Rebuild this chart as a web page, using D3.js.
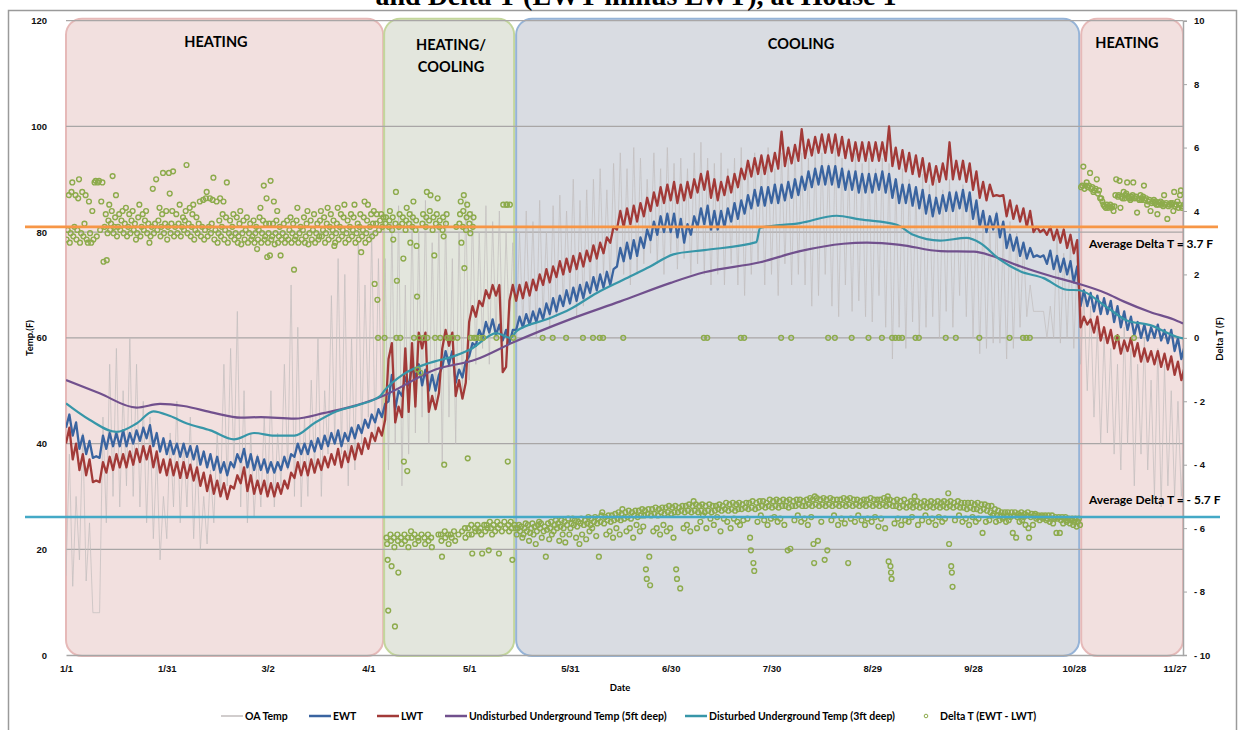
<!DOCTYPE html>
<html>
<head>
<meta charset="utf-8">
<script src="https://cdn.jsdelivr.net/npm/d3@7/dist/d3.min.js"></script>
<style>
  body { margin: 0; background: #fff; }
  svg { display: block; font-family: Lato, "Open Sans", sans-serif; }
  .tick text { font-weight: bold; fill: #111; }
</style>
</head>
<body>
<svg id="chart" width="1241" height="730"></svg>
<script>
// ---------- data (day = days after Jan 1) ----------
const regionNames = [["HEATING"], ["HEATING/", "COOLING"], ["COOLING"], ["HEATING"]];
const regionStart = [0, 94.7, 134.0, 302.2];
const regionEnd = [94.4, 133.4, 301.6, 332.5];

const tickDays = [0, 30, 60, 90, 120, 150, 180, 210, 240, 270, 300, 330];
const tempTicks = [0, 20, 40, 60, 80, 100, 120];
const deltaTicks = [-10, -8, -6, -4, -2, 0, 2, 4, 6, 8, 10];

// noisy series: [low, high] read every 2 days
const bandStep = 2;
const oaTemp = [
  [15,38],[13,30],[18,42],[14,25],[8,8],[8,45],[25,55],[30,58],[28,50],[32,60],
  [30,55],[28,48],[25,45],[22,38],[18,30],[22,42],[28,48],[25,40],[28,45],[22,38],
  [20,30],[21,35],[25,42],[30,55],[32,58],[35,65],[28,50],[25,42],[26,38],[28,45],
  [30,50],[28,42],[32,55],[35,70],[30,62],[28,45],[30,52],[35,60],[30,50],[38,68],
  [40,75],[38,72],[32,60],[35,78],[40,70],[45,80],[40,75],[45,75],[35,82],[40,85],
  [32,70],[38,84],[42,80],[45,86],[40,78],[48,82],[36,84],[45,75],[40,80],[50,86],
  [52,84],[55,80],[58,85],[55,82],[60,84],[58,80],[60,78],[60,80],[62,84],[63,82],
  [60,86],[64,80],[62,85],[64,87],[66,84],[68,90],[64,86],[66,88],[68,90],[70,92],
  [72,88],[70,93],[74,95],[72,92],[70,96],[72,94],[74,90],[76,95],[74,92],[72,96],
  [76,93],[73,94],[75,92],[72,95],[74,97],[72,94],[70,93],[72,95],[70,92],[74,94],
  [70,96],[68,93],[72,95],[74,94],[70,96],[72,92],[68,95],[74,94],[70,96],[72,95],
  [70,94],[66,96],[68,95],[72,93],[66,96],[64,94],[70,92],[65,95],[67,93],[64,94],
  [63,92],[68,94],[62,93],[56,90],[62,92],[58,90],[63,88],[60,91],[62,89],[64,90],
  [60,88],[65,90],[62,88],[68,89],[64,87],[60,86],[57,84],[58,82],[59,84],[59,80],
  [56,82],[58,80],[62,78],[64,70],[65,65],[65,65],[60,66],[60,80],[59,76],[60,78],
  [58,75],[55,68],[50,66],[45,62],[40,60],[42,58],[38,55],[35,62],[40,58],[32,55],
  [38,60],[35,52],[30,58],[28,55],[32,50],[30,48],[30,45]
];
const ewt = [
  [43,45.5],[41.5,44],[39,41.5],[38,40.5],[37.3,37.6],[37.3,41.5],[39,42],[39.5,42],[39.5,42.5],[39.5,42],
  [40,42.5],[40.5,43],[41,43.5],[39.5,42],[38.5,41],[38,40.5],[38,40],[37.5,40],[37.5,39.5],[37,39.5],
  [36,38.5],[35.5,38],[35,37.5],[34.5,36.5],[34,36.5],[35.5,38],[36.5,39],[35.5,38],[35,37.5],[35,37],
  [34.5,36.5],[34.5,36.5],[35,37.5],[35.5,38],[37.5,40],[38,40],[38,40.5],[38.5,41],[39,41.5],[39.5,42],
  [40,42.5],[39.5,42],[40.5,43],[41,43.5],[42,44.5],[43,45.5],[44,46.5],[45,47.5],[48,53],[46.5,50],
  [49,52.5],[51,54.5],[52.5,55],[51,54],[50,53],[50,53],[54.5,57.5],[55,57.5],[51.5,54],[52.5,55.5],
  [56.5,59],[58.5,61.5],[60,63],[61,63.5],[60.5,62.5],[59.5,61.5],[59,61.5],[61.5,64],[62,64.5],[62.5,65],
  [63,65.5],[63.5,66.5],[64.5,67.5],[65,68],[66,69],[66.5,69.5],[67,70],[67.5,70.5],[68.5,71.5],[69,72],
  [69.5,72.5],[70,73],[73.5,77],[74.5,78],[75,78.5],[75.5,79],[77,80.5],[78.5,82],[79.5,83],[80,83.5],
  [80,83.5],[79,82.5],[78,81.5],[79.5,83],[81,84.5],[81.5,85],[80.5,84],[80.5,84],[81,84.5],[82,85.5],
  [82.5,86],[83.5,87],[84.5,88],[85,88.5],[85,88.5],[85.5,89],[85.5,89],[86,89.5],[86.5,90],[87,90.5],
  [88,91.5],[88.5,92],[89,92.5],[89,92.5],[89,92.5],[88.5,92],[88,91.5],[88,91.5],[87.5,91],[87.5,91],
  [87.5,91],[88,91.5],[87.5,91],[86.5,90],[85.5,89],[85.5,89],[85,88.5],[84.5,88],[83.5,87],[83,86.5],
  [83.5,87],[84,87.5],[84,87.5],[84.5,88],[84,87.5],[82.5,86],[81,84],[80,83],[80.5,83.5],[79,82],
  [77,79.5],[76.5,79],[75.5,78],[75,77],[75.3,75.6],[75.3,75.6],[74,76.5],[73,75.5],[72.5,75],[72,74.5],
  [70.5,73.5],[66,69],[66,68.5],[65,68],[64.5,67.5],[64.5,67],[63,66],[62,65],[61.5,64],[60.5,63],
  [60,62.5],[59.5,62],[60,62.5],[59.5,61.5],[59,61.5],[57.5,60],[56,58.5]
];
const lwt = [
  [40,43],[37,40],[35,38],[34,37],[32.7,33],[32.7,36.5],[34.5,37.5],[35,38],[35.5,38],[35.5,38.5],
  [36,39],[36.5,39.5],[37,39.5],[35.5,38.5],[34.5,37],[34,37],[34,36.5],[33.5,36.5],[33.5,36],[33,35.5],
  [32,34.5],[31,34],[30.5,33],[30,32.5],[29.5,32],[31.5,34],[32.5,35.5],[31,34],[30.5,33],[30.5,33],
  [30,32.5],[30,32.5],[30.5,33],[31.5,34.5],[33.5,36.5],[34,36.5],[34,37],[34.5,37],[35,37.5],[35.5,38],
  [36,39],[35.5,38.5],[36.5,39.5],[37,40],[38,41],[39,42],[40.5,43],[41.5,44.5],[56,59],[44,47],
  [45,58],[46,59],[47,61],[58,61],[46,49],[46.5,49.5],[58,61.5],[58.5,61],[49,52],[48.5,51.5],
  [63,66],[64,67],[66,69],[67.5,70],[68,70],[53.5,54.5],[67,70],[67,70],[67.5,70.5],[68,71],
  [69,72],[70,73],[70.5,73.5],[71.5,74.5],[72,75],[72.5,75.5],[73,76],[73.5,76.5],[74.5,77.5],[75,78],
  [76,79],[78,81],[80.5,84],[81,84.5],[81.5,85],[82,85.5],[83,86.5],[84,87.5],[85,88.5],[85.5,89],
  [86,89.5],[85.5,89],[86,89.5],[86.5,90],[87.5,91],[88,91.5],[86.5,90],[86,89.5],[87,90.5],[87.5,91],
  [88.5,92],[90,93.5],[90.5,94],[91,94.5],[91,94.5],[91.5,95],[92,99],[92.5,96],[93,96.5],[93.5,99.5],
  [94,97.5],[94.5,98],[95,98.5],[95,98.5],[95,98.5],[94.5,98],[94,97.5],[93.5,97],[93.5,97],[93.5,97],
  [93.5,97],[93.5,97],[93.5,100],[92.5,96],[92,95.5],[91.5,95],[91,94.5],[90.5,94],[89.5,93],[89,92.5],
  [89.5,93],[90,97],[90,93.5],[90,93.5],[89.5,93],[88,91.5],[86.5,89.5],[86,89],[86.8,87],[86.8,87],
  [83,86],[82.5,85],[82,84.5],[81,84],[80,81],[80,80.5],[79.5,81],[78.5,80.5],[78,80.5],[77,79.5],
  [76,78.5],[62,64],[62.5,63.5],[61,64],[59.5,62],[59,61.5],[58,60.5],[57,59.5],[57.5,60],[56.5,59],
  [55.5,58],[55.5,57.5],[55,57.5],[54.5,57],[54,56.5],[53,55.5],[52,54.5]
];

// smooth series: [day, temp]
const undisturbed = [
  [0,52.0],[10,49.5],[21,46.8],[28,47.5],[35,47.1],[44,45.8],[52,44.9],[58,45.0],[68,44.7],[77,45.8],
  [85,47.0],[91.5,48.3],[95,49.2],[110,54.0],[122,55.9],[133,59.1],[150,63.5],[165,66.9],[180,70.4],
  [190,72.4],[206.6,74.3],[218.5,76.4],[231.4,77.8],[238.4,78.0],[248.3,77.6],[260.3,76.4],[270.2,76.3],
  [276.2,75.4],[284.2,73.5],[293.1,71.7],[301,70.3],[309.8,68.4],[314.8,66.9],[322.7,64.9],[329.6,63.5],[332.5,62.7]
];
const disturbed = [
  [0,47.6],[7,44.5],[15,42.2],[21,43.8],[26,46.1],[31,45.2],[36,43.8],[43,42.5],[50,40.8],[56,42.0],
  [62,41.5],[68,41.5],[74,43.9],[80.6,46.1],[87.5,47.4],[93.5,49.0],[95,50.2],[100.4,53.1],[108.4,55.3],
  [115.3,56.5],[120.3,57.8],[128.2,60.9],[132.2,60.0],[134.2,61.3],[143.1,63.5],[150,65.4],[158,68.5],
  [165.9,71.0],[173.9,73.5],[180.8,75.8],[190,76.6],[205.5,78.1],[206.6,80.8],[218.5,81.7],[229.4,83.1],
  [236.3,82.4],[247.3,81.4],[252.2,79.5],[260.2,78.4],[268.1,78.9],[272,78.0],[278,74.8],[284,72.6],
  [291,71.3],[297.9,69.1],[301.6,69.0],[309.8,65.8],[315.8,63.3],[322.7,62.4],[330.6,60.2],[332.5,59.9]
];

// Delta T readings, grouped by day
const deltaHeat1Start = 0;
const deltaHeat1 = [
  [3.1,3.4,4.5],[3.0,3.3,4.6,4.9],[3.2,3.5,4.5],[3.1,3.4,4.4,5.0],[3.0,3.3,4.6],
  [3.2,3.6,4.5],[3.1,3.0,4.3],[3.3,3.0,4.0],[3.1,4.9,4.95],[3.2,4.9,4.95],
  [3.4,4.3,4.9],[2.4,3.5,3.9],[2.45,3.3,3.7,4.2],[3.4,3.6,4.0,5.1],[3.3,3.5,3.8,4.5],
  [3.2,3.5,3.9],[3.4,3.7,4.0],[3.3,3.6,4.1],[3.2,3.5,3.9],[3.3,3.7,4.0],
  [3.4,3.6,3.1],[3.3,3.8,4.2],[3.2,3.5,3.9],[3.4,3.7,4.0],[3.3,3.6,3.0],
  [3.2,3.5,4.7],[3.3,3.6,5.0],[3.4,3.7,4.1],[3.2,3.5,3.9,5.2],[3.3,3.6,4.0],
  [3.1,3.5,5.2,4.55],[3.3,3.6,4.0,5.25],[3.2,3.5,3.9],[3.3,3.6,4.2],[3.2,3.5,3.8],
  [3.4,3.7,4.0,5.45],[3.3,3.6,4.1],[3.2,3.5,3.9,4.2],[3.1,3.4,3.8],[3.3,3.6,4.3],
  [3.2,3.5,4.35],[3.1,3.4,4.4,4.6],[3.2,3.5,4.4],[3.3,3.6,4.35,5.05],[3.1,3.4,4.3],
  [3.0,3.3,3.7,4.4],[3.2,3.5,3.9,4.3],[3.1,3.4,3.8,4.9],[3.0,3.3,3.7],[3.2,3.5,3.9],
  [3.1,3.3,3.8],[3.0,3.2,3.6,4.0],[2.95,3.3,3.7],[3.1,3.4,3.8],[3.0,3.3,3.6],
  [3.1,3.2,3.7],[3.0,3.3,3.5,2.8],[3.1,3.4,3.8,4.1],[3.0,3.3,3.7,4.8],[3.1,3.2,3.6,4.4,2.55],
  [3.0,3.3,3.6,2.6,4.95],[3.1,3.2,3.6,4.3],[2.95,3.3,3.7,4.0],[3.0,3.2,3.5,2.6],[3.1,3.3,3.6],
  [3.0,3.2,3.7],[3.1,3.4,3.8],[3.0,3.3,3.6,2.15],[3.1,3.2,3.7,4.1],[3.0,3.3,3.5],
  [3.1,3.4,3.8],[3.0,3.2,3.6,4.0],[2.95,3.3,3.7],[3.1,3.4,3.9],[3.0,3.3,3.6],
  [3.1,3.2,3.7,4.0],[3.2,3.4,3.8],[3.0,3.3,3.6,4.1],[3.1,3.5,3.9],[3.2,3.4,3.7,2.9],
  [3.0,3.3,3.6,4.1],[3.1,3.5,3.9],[3.2,3.4,3.8,4.2],[3.0,3.3,3.7],[3.1,3.5,3.9],
  [3.2,3.4,3.8,4.2],[3.0,3.3,3.6],[3.1,3.5,3.9,2.7],[3.2,3.4,3.8,4.3],[3.0,3.3,3.7,4.2],
  [3.1,3.5,3.9],[3.2,3.6,4.0,1.7],[3.3,3.6,3.9,1.2,0],[3.4,3.7,3.9],[3.5,3.8,0]
];
const deltaMixedStart = 95;
const deltaMixed = [
  [3.6,3.8,-6.3,-6.5,-7.0,-8.6],[3.5,3.7,4.0,-6.2,-6.4,-7.2],[3.4,3.8,3.1,-6.3,-6.6,-9.1],
  [3.6,4.6,0,1.8,-6.2,-6.4,-7.4],[3.5,3.9,0,-6.3,-6.5],[3.6,3.8,2.5,-3.9,-6.2,-6.4],
  [3.4,3.7,4.1,-4.2,-6.3,-6.6],[3.6,3.9,3.0,-6.1,-6.3],[3.5,3.8,4.3,0,-6.2,-6.5],
  [3.4,3.7,2.9,1.3,-1.0,-6.3,-6.4],[0,-1.1,-6.2],[3.6,3.9,0,-6.3,-6.5],
  [3.5,3.8,4.6,0,-6.2,-6.4],[3.7,4.0,4.5,-6.3,-6.6],[3.4,3.8,2.6,0],
  [3.6,3.9,4.4,-6.2],[3.5,3.7,0,-6.2,-6.4,-6.9],[3.4,3.8,3.2,-4.0,-6.1,-6.3],
  [3.6,3.9,0,-6.2,-6.5],[0,-6.2,-6.3],[0,-6.1,-6.4],[3.5,0,-6.2],
  [3.6,3.9,4.3,3.0,-6.1],[3.5,4.0,4.5,2.2,-6.0,-6.3],[3.4,3.8,4.2,-3.8,-6.0,-6.2],
  [3.6,3.9,3.3,0,-5.9,-6.2,-6.8],[3.5,3.8,0,-6.0,-6.1],[0,-5.9,-6.1],[0,-6.0,-6.2,-6.8],
  [0,-5.9,-6.1],[-5.9,-6.0,-6.7],[-5.8,-6.0,-6.2],[-5.9,-6.1],[0,-5.8,-6.0,-6.8],
  [-5.9,-6.1],[4.2,-5.8,-6.0],[4.2,4.2,-3.9,-5.9,-6.1],[4.2,-5.8,-6.0,-7.0],[0,-5.9,-6.0]
];
const deltaCoolStart = 134;
const deltaCool = [
  [-6.2,-6.0,-5.9],[-6.1,-5.95,-6.3],[-6.2,-6.0,-5.85],[-6.1,-5.9,-6.4],[-6.15,-6.0,-5.85],[-6.2,-5.95,-6.5],[-6.1,-5.9,-5.8],[-6.0,-5.85,-6.3,0],[-6.1,-5.95,-6.9],[-6.05,-5.85,-6.35],
  [-6.0,-5.8,-6.2,0],[-6.1,-5.9,-5.75],[-6.0,-5.85,-6.4],[-5.95,-5.75,-6.2],[-6.0,-5.8,-6.45,0],[-5.9,-5.7,-6.2],[-6.0,-5.85,-5.7],[-5.9,-5.75,-6.3],[-5.95,-5.8,-6.5],[-5.85,-5.7,-6.2,0],
  [-5.9,-5.75,-6.35],[-5.85,-5.65,-6.1],[-5.9,-5.7,-6.0,0],[-5.8,-5.65,-6.25],[-5.85,-5.7,-6.9,0],[-5.8,-5.6,-5.5,0],[-5.85,-5.65,-6.2],[-5.75,-5.6,-6.1],[-5.8,-5.6,-6.3],[-5.75,-5.55,-6.0],
  [-5.7,-5.5,-6.2],[-5.75,-5.55,-5.4,0],[-5.7,-5.5,-6.1],[-5.65,-5.45,-6.0],[-5.7,-5.5,-6.3],[-5.6,-5.45,-5.9],[-5.65,-5.45,-6.1],[-5.6,-5.4,-5.95],[-5.6,-5.45,-7.3,-7.6],[-5.55,-5.4,-6.9,-7.8],
  [-5.6,-5.4,-6.1],[-5.55,-5.35,-6.0],[-5.6,-5.4,-6.2],[-5.5,-5.35,-5.9],[-5.55,-5.35,-6.1],[-5.5,-5.3,-6.0],[-5.55,-5.35,-6.3],[-5.5,-5.3,-7.3,-7.6],[-5.5,-5.35,-7.9],[-5.45,-5.3,-6.0],
  [-5.5,-5.3,-5.9],[-5.45,-5.25,-6.1],[-5.5,-5.3,-5.15],[-5.45,-5.25,-6.0],[-5.5,-5.3,-5.8],[-5.45,-5.25,-5.6,0],[-5.5,-5.3,-6.0,0],[-5.45,-5.25,-5.7],[-5.5,-5.3,-5.9],[-5.45,-5.3,-5.65],
  [-5.4,-5.25,-6.1],[-5.45,-5.3,-5.7],[-5.4,-5.2,-5.8],[-5.45,-5.25,-6.0],[-5.4,-5.2,-5.7],[-5.45,-5.25,-5.8],[-5.4,-5.2,-5.9,0],[-5.4,-5.25,-5.75,0],[-5.35,-5.2,-5.7],[-5.4,-5.2,-6.3,-6.7],
  [-5.35,-5.15,-7.1,-7.35],[-5.4,-5.2,-5.8],[-5.35,-5.15,-5.6],[-5.3,-5.15,-5.75],[-5.35,-5.2,-5.9],[-5.3,-5.1,-5.7],[-5.35,-5.15,-5.65],[-5.3,-5.1,-5.8],[-5.35,-5.15,-5.7,0],[-5.3,-5.1,-5.9],
  [-5.3,-5.15,-6.7],[-5.35,-5.1,-6.65,0],[-5.3,-5.15,-5.75],[-5.3,-5.1,-5.6],[-5.25,-5.1,-5.8],[-5.3,-5.15,-5.7],[-5.3,-5.1,-5.9],[-5.25,-5.05,-5.65],[-5.3,-5.1,-6.5,-7.1,-5.0],[-5.25,-5.05,-6.4],
  [-5.3,-5.1,-5.8],[-5.25,-5.05,-7.0],[-5.3,-5.1,-6.7,0],[-5.25,-5.05,-5.75],[-5.3,-5.1,-5.6,0],[-5.25,-5.1,-5.9],[-5.3,-5.1,-5.7],[-5.25,-5.05,-5.85],[-5.3,-5.1,-7.1],[-5.25,-5.05,-5.7,0],
  [-5.3,-5.1,-5.8],[-5.25,-5.1,-5.6],[-5.3,-5.15,-5.75],[-5.25,-5.1,-5.9],[-5.3,-5.1,-5.7,0],[-5.25,-5.05,-5.8],[-5.3,-5.1,-5.65],[-5.25,-5.1,-5.95],[-5.3,-5.1,-5.7,0],[-5.25,-5.05,-6.0],
  [-5.3,-5.1,-5.0,-7.05],[-5.25,-5.1,-7.2,-7.4,-7.6,0],[-5.3,-5.15,-5.85,0],[-5.3,-5.1,-5.7,0],[-5.35,-5.15,-5.9,0],[-5.3,-5.1,-5.75],[-5.35,-5.2,-5.8],[-5.3,-5.15,-5.65],[-5.35,-5.2,-5.0,0],[-5.3,-5.15,-5.9,0],
  [-5.35,-5.2,-5.75],[-5.3,-5.15,-5.6],[-5.35,-5.2,-5.8],[-5.3,-5.15,-5.7],[-5.35,-5.2,-5.9],[-5.3,-5.15,-5.65],[-5.35,-5.2,-5.8],[-5.3,-5.15,-5.7,0],[-5.35,-5.2,-4.9,-6.5],[-5.3,-5.15,-7.2,-7.4,-7.85],
  [-5.35,-5.2,-5.75,0],[-5.3,-5.15,-5.6],[-5.35,-5.2,-5.8],[-5.35,-5.2,-5.7],[-5.4,-5.2,-5.9],[-5.35,-5.2,-5.65],[-5.4,-5.25,-5.8],[-5.4,-5.2,-5.7,0],[-5.45,-5.25,-6.15],[-5.4,-5.25,-5.8],
  [-5.45,-5.3,-5.75],[-5.5,-5.3,-5.6],[-5.55,-5.4,-5.8],[-5.6,-5.45,-5.75],[-5.6,-5.5,-5.7],[-5.65,-5.5,-5.8],[-5.6,-5.5,-5.75,0],[-5.65,-5.5,-6.15],[-5.6,-5.5,-6.3],[-5.65,-5.55,-5.8],
  [-5.6,-5.5,-5.75,0],[-5.65,-5.55,-5.9,0],[-5.6,-5.5,-6.0,-6.3,0],[-5.65,-5.55,-5.9],[-5.6,-5.55,-5.7],[-5.65,-5.6,-5.75],[-5.65,-5.6,-5.7],[-5.65,-5.6,-5.75],[-5.7,-5.6,-5.8],[-5.7,-5.6,-5.85],
  [-5.7,-5.65,-6.15],[-5.7,-5.65,-6.15],[-5.75,-5.65,-5.85],[-5.7,-5.65,-5.8],[-5.75,-5.7,-5.85],[-5.75,-5.7,-5.9],[-5.8,-5.7,-5.95],[-5.8,-5.7,-5.9]
];
const deltaHeat2Start = 302;
const deltaHeat2 = [
  [4.75,4.8,5.4],[4.7,4.8,4.9],[4.75,4.8,5.2],[4.7,4.75,4.6],[4.65,4.7,5.0],
  [4.55,4.65,4.4],[4.4,4.3,4.2],[4.15,4.1,4.2],[4.1,4.15,4.2],[4.1,4.15,4.0],
  [4.15,4.5,5.0,0],[4.45,4.5,4.95,4.1],[4.45,4.4,4.6],[4.4,4.5,4.55,4.9],[4.45,4.4,4.35],
  [4.45,4.4,4.5,4.9,0],[4.4,4.45,3.95],[4.4,4.35,4.5],[4.35,4.4,4.45,4.8],[4.35,4.4,4.2],
  [4.3,4.35,4.0],[4.25,4.3,4.35],[4.25,4.3,4.2,3.9],[4.2,4.25,4.3],[4.2,4.25,4.15,4.5],
  [4.2,4.25,3.75],[4.15,4.2,4.25],[4.2,4.25,4.0,4.6],[4.15,4.2,4.3],[4.1,4.2,4.5,4.65],
  [4.1,4.15,4.2]
];

// average Delta T reference lines (right axis) and their labels
const avgLineValues = [3.5, -5.65];
const avgLabels = ["Average Delta T = 3.7 F", "Average Delta T = - 5.7 F"];

const seriesNames = ["OA Temp", "EWT", "LWT", "Undisturbed Underground Temp (5ft deep)",
  "Disturbed Underground Temp (3ft deep)", "Delta T (EWT - LWT)"];

// ---------- drawing ----------
const svg = d3.select("#chart");
const plotLeft = 66, plotRight = 1183, plotTop = 20.7, plotBottom = 655;

const x = d3.scaleLinear().domain([0, 332.5]).range([plotLeft, plotRight]);
const yL = d3.scaleLinear().domain([0, 120]).range([plotBottom, plotTop]);
const yR = d3.scaleLinear().domain([-10, 10]).range([plotBottom, plotTop]);
const jan1 = new Date(2011, 0, 1);
const fmtDay = d => d3.timeFormat("%-m/%-d")(d3.timeDay.offset(jan1, d));

const colors = {
  oa: "#c2bdbd", ewt: "#3a64a0", lwt: "#a23a38", und: "#71508d", dis: "#3796a8",
  delta: "#8dab4c", orange: "#f79646", cyan: "#44a9c6"
};

// chart frame
svg.append("rect").attr("x", 8.5).attr("y", 10.5).attr("width", 1228).attr("height", 740)
  .attr("fill", "#fff").attr("stroke", "#9a9a9a").attr("stroke-width", 1.5);

// title (only the lower line is visible)
svg.append("text").attr("x", 636).attr("y", 5).attr("text-anchor", "middle")
  .style("font-family", "'Liberation Serif', 'DejaVu Serif', serif")
  .style("font-weight", "bold").style("font-size", "28px")
  .text("and Delta T (EWT minus LWT), at House 1");

// season boxes
const regionFill = ["#f2e0df", "#e3e6dd", "#d9dce2", "#f2e0df"];
const regionStroke = ["#e6b9b8", "#c3d69b", "#95b3d7", "#e6b9b8"];
svg.append("g").selectAll("rect").data(regionNames).join("rect")
  .attr("x", (d, i) => x(regionStart[i]))
  .attr("y", yL(120) - 2)
  .attr("width", (d, i) => x(regionEnd[i]) - x(regionStart[i]))
  .attr("height", yL(0) - yL(120) + 3)
  .attr("rx", 16).attr("ry", 16)
  .attr("fill", (d, i) => regionFill[i])
  .attr("stroke", (d, i) => regionStroke[i]).attr("stroke-width", 2);

// gridlines
svg.append("g").selectAll("line").data(tempTicks.filter(t => t > 0)).join("line")
  .attr("x1", plotLeft).attr("x2", plotRight)
  .attr("y1", d => yL(d)).attr("y2", d => yL(d))
  .attr("stroke", "#a9a6a6").attr("stroke-width", 1.2);

// axes
const xAxis = svg.append("g").attr("transform", `translate(0,${plotBottom})`)
  .call(d3.axisBottom(x).tickValues(tickDays).tickFormat(fmtDay).tickSize(0).tickPadding(10));
xAxis.select(".domain").attr("stroke", "#a6a6a6").attr("stroke-width", 1.5);
xAxis.selectAll("text").style("font-size", "9.5px");

const yAxisL = svg.append("g").attr("transform", `translate(${plotLeft},0)`)
  .call(d3.axisLeft(yL).tickValues(tempTicks).tickSize(0).tickPadding(19));
yAxisL.select(".domain").remove();
yAxisL.selectAll("text").style("font-size", "9.5px");

const yAxisR = svg.append("g").attr("transform", `translate(${plotRight},0)`)
  .call(d3.axisRight(yR).tickValues(deltaTicks).tickSize(4).tickPadding(7)
    .tickFormat(d => d < 0 ? "- " + (-d) : d));
yAxisR.select(".domain").attr("stroke", "#a6a6a6").attr("stroke-width", 1.5);
yAxisR.selectAll("line").attr("stroke", "#a6a6a6");
yAxisR.selectAll("text").style("font-size", "9.5px");

// plot clip
svg.append("clipPath").attr("id", "plot").append("rect")
  .attr("x", plotLeft).attr("y", plotTop - 4).attr("width", plotRight - plotLeft).attr("height", plotBottom - plotTop + 8);
const plot = svg.append("g").attr("clip-path", "url(#plot)");

function bandPoints(pairs) {
  const pts = [];
  pairs.forEach((p, i) => {
    pts.push([i * bandStep, p[0]]);
    pts.push([i * bandStep + bandStep / 2, p[1]]);
  });
  return pts;
}
const lineL = d3.line().x(d => x(d[0])).y(d => yL(d[1]));
const smoothL = d3.line().x(d => x(d[0])).y(d => yL(d[1])).curve(d3.curveMonotoneX);

plot.append("path").attr("d", lineL(bandPoints(oaTemp)))
  .attr("fill", "none").attr("stroke", colors.oa).attr("stroke-width", 0.9).attr("opacity", 0.8);
plot.append("path").attr("d", lineL(bandPoints(ewt)))
  .attr("fill", "none").attr("stroke", colors.ewt).attr("stroke-width", 2.3)
  .attr("stroke-linejoin", "round");
plot.append("path").attr("d", lineL(bandPoints(lwt)))
  .attr("fill", "none").attr("stroke", colors.lwt).attr("stroke-width", 2.3)
  .attr("stroke-linejoin", "round");
plot.append("path").attr("d", smoothL(undisturbed))
  .attr("fill", "none").attr("stroke", colors.und).attr("stroke-width", 2.2);
plot.append("path").attr("d", smoothL(disturbed))
  .attr("fill", "none").attr("stroke", colors.dis).attr("stroke-width", 2.2);

function dayPoints(groups, startDay) {
  const pts = [];
  groups.forEach((vals, i) => vals.forEach((v, j) => pts.push([startDay + i + (j + 0.5) / vals.length, v])));
  return pts;
}
const deltaPoints = [].concat(
  dayPoints(deltaHeat1, deltaHeat1Start), dayPoints(deltaMixed, deltaMixedStart),
  dayPoints(deltaCool, deltaCoolStart), dayPoints(deltaHeat2, deltaHeat2Start));
plot.append("g").selectAll("circle").data(deltaPoints).join("circle")
  .attr("cx", d => x(d[0])).attr("cy", d => yR(d[1])).attr("r", 2.4)
  .attr("fill", "none").attr("stroke", colors.delta).attr("stroke-width", 1.4);

// average lines
const avgColors = [colors.orange, colors.cyan];
const avgX = [[25, 1218], [25, 1220]];
svg.append("g").selectAll("line").data(avgLineValues).join("line")
  .attr("x1", (d, i) => avgX[i][0]).attr("x2", (d, i) => avgX[i][1])
  .attr("y1", d => yR(d)).attr("y2", d => yR(d))
  .attr("stroke", (d, i) => avgColors[i]).attr("stroke-width", 2.6);
const avgLabelY = [248, 504];
svg.append("g").selectAll("text").data(avgLabels).join("text")
  .attr("x", 1089).attr("y", (d, i) => avgLabelY[i])
  .style("font-size", "12px").style("font-weight", "bold").text(d => d);

// season labels
const labelX = [216, 451, 801, 1127];
const labelY = [47, 50, 49, 48];
regionNames.forEach((lines, i) => {
  const t = svg.append("text").attr("text-anchor", "middle")
    .style("font-size", "14.5px").style("font-weight", "bold");
  lines.forEach((s, k) => t.append("tspan").attr("x", labelX[i]).attr("y", labelY[i] + k * 22).text(s));
});

// axis titles
svg.append("text").attr("transform", "translate(33,338) rotate(-90)").attr("text-anchor", "middle")
  .style("font-size", "9.5px").style("font-weight", "bold").text("Temp.(F)");
svg.append("text").attr("transform", "translate(1223,339) rotate(-90)").attr("text-anchor", "middle")
  .style("font-size", "9.5px").style("font-weight", "bold").text("Delta T (F)");
svg.append("text").attr("x", 620).attr("y", 691).attr("text-anchor", "middle")
  .style("font-size", "9.5px").style("font-weight", "bold").text("Date");

// legend
const legendLineX = [221, 309, 377, 445, 685];
const legendColors = [colors.oa, colors.ewt, colors.lwt, colors.und, colors.dis];
const legend = svg.append("g").attr("transform", "translate(0,716)");
legendLineX.forEach((lx, i) => {
  legend.append("line").attr("x1", lx).attr("x2", lx + 22).attr("y1", 0).attr("y2", 0)
    .attr("stroke", legendColors[i]).attr("stroke-width", i === 0 ? 1.5 : 2.5);
  legend.append("text").attr("x", lx + 24).attr("y", 3.5)
    .style("font-size", "10.5px").style("font-weight", "bold").text(seriesNames[i]);
});
legend.append("circle").attr("cx", 926).attr("cy", 0).attr("r", 1.8)
  .attr("fill", "none").attr("stroke", colors.delta).attr("stroke-width", 1);
legend.append("text").attr("x", 940).attr("y", 3.5)
  .style("font-size", "10.5px").style("font-weight", "bold").text(seriesNames[5]);
</script>
</body>
</html>
